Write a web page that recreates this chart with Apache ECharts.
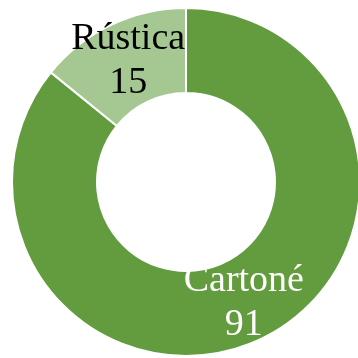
<!DOCTYPE html>
<html><head><meta charset="utf-8">
<script src="https://cdn.jsdelivr.net/npm/echarts@6/dist/echarts.min.js"></script>
<style>html,body{margin:0;padding:0;background:#fff}#c{width:358px;height:358px}</style>
</head><body><div id="c"></div>
<script>
const categories = ["Cartoné", "Rústica"];
const values = [91, 15];
const colors = ["#629c3f", "#a5c892"];
const labelColors = ["#ffffff", "#000000"];

const chart = echarts.init(document.getElementById('c'), null, {renderer: 'canvas'});
chart.setOption({
  animation: false,
  series: [{
    type: 'pie',
    center: [186, 182],
    radius: [89, 174],
    startAngle: 90,
    clockwise: true,
    avoidLabelOverlap: false,
    itemStyle: {borderColor: '#ffffff', borderWidth: 2},
    label: {
      show: true,
      position: 'inside',
      fontFamily: '"Liberation Serif", "DejaVu Serif", serif',
      fontSize: 38,
      lineHeight: 44,
      padding: [6, 0, 0, 0],
      formatter: p => p.name + '\n' + p.value
    },
    labelLine: {show: false},
    emphasis: {disabled: true},
    data: categories.map((n, i) => ({
      name: n, value: values[i],
      itemStyle: {color: colors[i]},
      label: {color: labelColors[i]}
    }))
  }]
});
</script></body></html>
